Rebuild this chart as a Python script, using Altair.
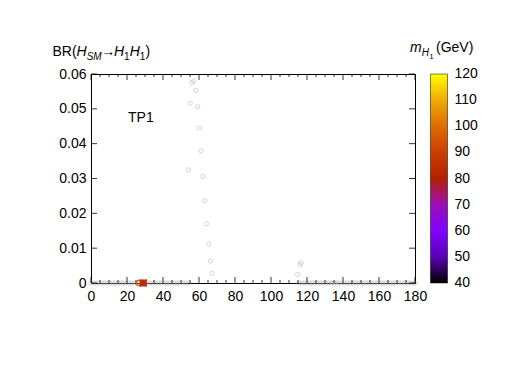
import altair as alt
import pandas as pd

# ---- data ----
curve_x = [57.1, 56.1, 58.2, 55.2, 59.3, 60.2, 61.1, 54.1, 62.2, 63.2, 64.3, 65.4, 66.3, 67.2,
           116.7, 116.0, 114.8]
curve_y = [0.0580, 0.0575, 0.0553, 0.0516, 0.0506, 0.0445, 0.0379, 0.0325, 0.0306, 0.0236,
           0.0170, 0.0112, 0.0063, 0.0028, 0.0058, 0.0053, 0.0024]
zero_x_low = [0, 1.5, 3, 4.5, 6, 7.5, 9, 10.5, 12, 13.5, 15, 16.5, 18, 19.5, 21, 22.5, 24, 25.5,
              27, 28.5, 30, 31.5, 33, 34.5, 36, 37.5, 39, 40.5, 42, 43.5, 45, 46.5, 48, 49.5,
              51, 52.5, 54]
zero_x_high = [115.5, 117, 118.5, 120, 121.5, 123, 124.5, 126, 127.5, 129, 130.5, 132, 133.5,
               135, 136.5, 138, 139.5, 141, 142.5, 144, 145.5, 147, 148.5, 150, 151.5, 153,
               154.5, 156, 157.5, 159, 160.5, 162, 163.5, 165, 166.5, 168, 169.5, 171, 172.5,
               174, 175.5, 177, 178.5, 180]
grey_cross_x = [133.5, 135, 136.5]
col_circle_x, col_circle_y, col_circle_m = [26.5], [0.0], [95]
col_cross_x, col_cross_y, col_cross_m = [29.0], [0.0], [93]
col_square_x, col_square_y, col_square_m = [29.0], [0.0], [84]

x_major = [0, 20, 40, 60, 80, 100, 120, 140, 160, 180]
x_minor = [5, 10, 15, 25, 30, 35, 45, 50, 55, 65, 70, 75, 85, 90, 95, 105, 110, 115,
           125, 130, 135, 145, 150, 155, 165, 170, 175]
y_major = [0, 0.01, 0.02, 0.03, 0.04, 0.05, 0.06]
cb_stops = [40, 50, 60, 70, 80, 90, 100, 110, 120]
# label positions (ends nudged inside so that Vega centres them on the bar ends)
cb_labels = [40.01, 50, 60, 70, 80, 90, 100, 110, 119.99]
cb_colors = ["#000000", "#5a00b4", "#8004ff", "#9c0db4", "#b42000", "#ca3e00",
             "#dd6c00", "#efab00", "#ffff00"]

W, H = 324, 209
FONT = "Liberation Sans"

grey_df = pd.DataFrame({
    "x": curve_x + zero_x_low + zero_x_high,
    "y": curve_y + [0.0] * (len(zero_x_low) + len(zero_x_high)),
})
gcross_df = pd.DataFrame({"x": grey_cross_x, "y": [0.0] * len(grey_cross_x)})
circ_df = pd.DataFrame({"x": col_circle_x, "y": col_circle_y, "m": col_circle_m})
cross_df = pd.DataFrame({"x": col_cross_x, "y": col_cross_y, "m": col_cross_m})
sq_df = pd.DataFrame({"x": col_square_x, "y": col_square_y, "m": col_square_m})

xscale = alt.Scale(domain=[0, 180], nice=False, zero=False)
yscale = alt.Scale(domain=[0, 0.06], nice=False, zero=False)
xaxis = alt.Axis(values=x_major, format="d", title=None, labelPadding=6, labelFlush=False,
                 ticks=False, domain=False, grid=False, labelOverlap=False)
yaxis = alt.Axis(values=y_major, title=None, labelPadding=5, ticks=False, domain=False,
                 grid=False, labelOverlap=False,
                 labelExpr="datum.value == 0 ? '0' : format(datum.value, '.2f')")

X = alt.X("x:Q", scale=xscale, axis=xaxis)
Y = alt.Y("y:Q", scale=yscale, axis=yaxis)
cscale = alt.Scale(domain=cb_stops, range=cb_colors, interpolate="rgb")
legend = alt.Legend(type="gradient", title=None, orient="none", legendX=339.5, legendY=0,
                    direction="vertical", format=".0f",
                    gradientLength=H, gradientThickness=17, values=cb_labels,
                    labelFont=FONT, labelFontSize=14, labelColor="black", labelOffset=7,
                    labelOverlap=False,
                    gradientStrokeColor="black", gradientStrokeWidth=0.5)
C = alt.Color("m:Q", scale=cscale, legend=legend)

grey = alt.Chart(grey_df).mark_point(shape="circle", filled=False, size=18,
                                     stroke="#b5b5b5", strokeWidth=0.8).encode(x=X, y=Y)
xshape = "M-1,-1L1,1M-1,1L1,-1"
gcross = alt.Chart(gcross_df).mark_point(shape=xshape, filled=False, size=18,
                                         stroke="#b5b5b5", strokeWidth=0.8).encode(x=X, y=Y)
circ = alt.Chart(circ_df).mark_point(shape="circle", filled=False, size=30,
                                     strokeWidth=1.2, opacity=1).encode(x=X, y=Y, color=C)
crs = alt.Chart(cross_df).mark_point(shape=xshape, filled=False, size=50,
                                     strokeWidth=1.2, opacity=1).encode(x=X, y=Y, color=C)
# solid square drawn with a thick stroke so all coloured marks share the stroke channel
sq = alt.Chart(sq_df).mark_point(shape="square", filled=False, size=14, strokeWidth=3.5,
                                 opacity=1).encode(x=X, y=Y, color=C)

# inward ticks (gnuplot style)
xmaj_df = pd.DataFrame({"x": x_major})
xmin_df = pd.DataFrame({"x": x_minor})
ymaj_df = pd.DataFrame({"y": y_major})
tick_layers = []
for df, ln in [(xmaj_df, 6), (xmin_df, 3)]:
    tick_layers.append(alt.Chart(df).mark_rule(color="black", strokeWidth=0.8).encode(
        x=X, y=alt.value(H), y2=alt.value(H - ln)))
    tick_layers.append(alt.Chart(df).mark_rule(color="black", strokeWidth=0.8).encode(
        x=X, y=alt.value(0), y2=alt.value(ln)))
tick_layers.append(alt.Chart(ymaj_df).mark_rule(color="black", strokeWidth=0.8).encode(
    y=Y, x=alt.value(0), x2=alt.value(6)))
tick_layers.append(alt.Chart(ymaj_df).mark_rule(color="black", strokeWidth=0.8).encode(
    y=Y, x=alt.value(W), x2=alt.value(W - 6)))

one = pd.DataFrame({"k": [0]})


def txt(t, px, py, size=14, italic=False):
    kw = dict(text=t, font=FONT, fontSize=size, align="left", baseline="alphabetic",
              color="black")
    if italic:
        kw["fontStyle"] = "italic"
    return alt.Chart(one).mark_text(**kw).encode(x=alt.value(px), y=alt.value(py))


texts = [
    # y title: BR(H_SM -> H1 H1)
    txt("BR(", -38.5, -18),
    txt("H", -14.4, -18, italic=True),
    txt("SM", -4.3, -14, size=10, italic=True),
    txt("\u2192", 10.2, -18),
    txt("H", 23.0, -18, italic=True),
    txt("1", 33.1, -14, size=10),
    txt("H", 38.7, -18, italic=True),
    txt("1", 48.8, -14, size=10),
    txt(")", 54.4, -18),
    # colorbar title: m_H1 (GeV)
    txt("m", 319, -22, italic=True),
    txt("H", 330.7, -18.5, size=10, italic=True),
    txt("1", 338.3, -15.5, size=8),
    txt("(GeV)", 345, -22),
    # panel label
    txt("TP1", 37, 48),
]

chart = alt.layer(grey, gcross, *tick_layers, circ, crs, sq, *texts).properties(
    width=W, height=H,
    autosize=alt.AutoSizeParams(type="none"),
    padding={"left": 83, "top": 66, "right": 90, "bottom": 60},
).configure_view(stroke="black", strokeWidth=1).configure_axis(
    labelFont=FONT, labelFontSize=14, labelColor="black"
)

chart.save("out.html", embed_options={"renderer": "svg", "actions": False})
